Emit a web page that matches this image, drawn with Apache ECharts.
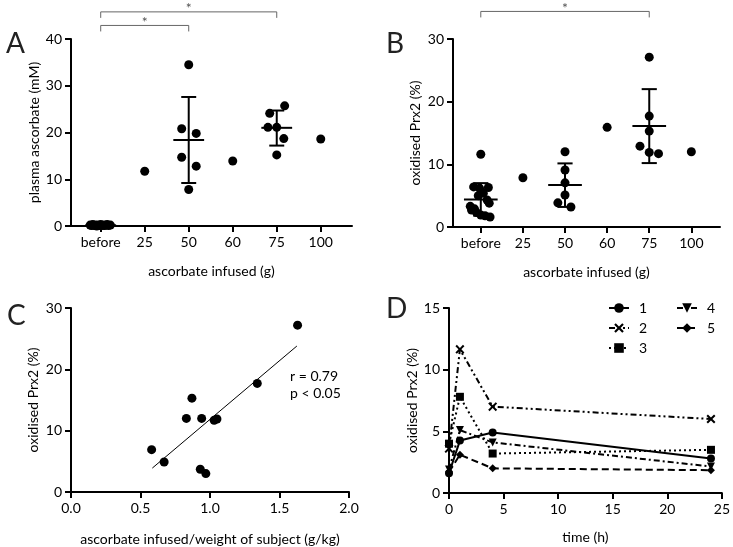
<!DOCTYPE html>
<html><head><meta charset="utf-8">
<script src="https://cdn.jsdelivr.net/npm/echarts@6/dist/echarts.min.js"></script>
<style>html,body{margin:0;padding:0;background:#fff}#c{width:733px;height:547px}</style>
</head><body><div id="c"></div>
<script>
// ---------- shared ----------
const doseLabels = ['before', '25', '50', '60', '75', '100'];
const doseTicks = [0, 1, 2, 3, 4, 5];

// ---------- Panel A: plasma ascorbate ----------
const ascX = [-0.24,-0.21,-0.18,-0.15,-0.12,-0.09,-0.06,-0.03,0.0,0.03,0.06,0.09,0.12,0.15,0.18,0.22,
              1,
              1.84,2.17,1.84,2.17,2,2,
              3,
              4.18,3.84,3.80,4,4.16,4,
              5];
const ascY = [0.2,0.1,0.3,0.1,0.2,0.0,0.2,0.1,0.3,0.1,0.2,0.1,0.2,0.3,0.1,0.2,
              11.7,
              20.8,19.8,14.7,12.8,34.5,7.8,
              13.9,
              25.7,24.1,21.1,21.1,18.7,15.2,
              18.6];
const ascErrCat = [0, 2, 4];
const ascMean = [0.15, 18.4, 21.0];
const ascLow = [0.0, 9.2, 17.2];
const ascHigh = [0.3, 27.6, 24.7];
const ascSig = [[0, 4], [0, 2]];

// ---------- Panel B: oxidised Prx2 by dose ----------
const prxX = [0,-0.17,0.18,-0.03,0.06,-0.06,0.15,0.20,-0.25,-0.15,-0.22,-0.10,0,0.10,0.22,
              1,
              2,2,2,2,1.83,2.14,
              3,
              4,4,4,3.78,4,4.22,
              5];
const prxY = [11.6,6.4,6.3,6.2,5.4,5.0,4.3,3.8,3.3,2.9,2.7,2.3,1.9,1.8,1.6,
              7.85,
              12.0,9.1,7.05,5.1,3.85,3.2,
              15.9,
              27.1,17.7,15.3,12.9,11.9,11.7,
              12.0];
const prxErrCat = [0, 2, 4];
const prxMean = [4.4, 6.7, 16.1];
const prxLow = [1.8, 3.2, 10.2];
const prxHigh = [7.0, 10.15, 22.0];
const prxSig = [[0, 4]];

// ---------- Panel C: correlation ----------
const perKgX = [0.58,0.67,0.83,0.87,0.94,1.03,1.05,0.93,0.97,1.34,1.63];
const perKgY = [6.9,4.9,12.0,15.3,12.0,11.7,11.9,3.7,3.0,17.7,27.2];
const fitX = [0.585, 1.625];
const fitY = [3.9, 23.8];

// ---------- Panel D: time course ----------
const hours = [0, 1, 4, 24];
const subj1 = [1.6, 4.25, 4.9, 2.8];
const subj2 = [3.6, 11.65, 7.0, 6.0];
const subj3 = [4.0, 7.8, 3.2, 3.5];
const subj4 = [1.9, 5.1, 4.1, 2.15];
const subj5 = [1.7, 3.1, 2.0, 1.85];

const FONT = 'Lato';
const FS = 14;
const zip = (a, b) => a.map((v, i) => [v, b[i]]);

function errRender(halfMean, halfCap) {
  return function (params, api) {
    const x = api.value(0), m = api.value(1), lo = api.value(2), hi = api.value(3);
    const c = (xx, yy) => api.coord([xx, yy]);
    const st = { stroke: '#000', lineWidth: 2, fill: null };
    const seg = (p, q) => ({ type: 'line', shape: { x1: p[0], y1: p[1], x2: q[0], y2: q[1] }, style: st });
    return { type: 'group', children: [
      seg(c(x, lo), c(x, hi)),
      seg(c(x - halfMean, m), c(x + halfMean, m)),
      seg(c(x - halfCap, lo), c(x + halfCap, lo)),
      seg(c(x - halfCap, hi), c(x + halfCap, hi))
    ] };
  };
}
function sigRender(levels) {
  return function (params, api) {
    const lv = levels[params.dataIndex];
    const a = api.coord([api.value(0), lv]), b = api.coord([api.value(1), lv]);
    return { type: 'group', children: [
      { type: 'polyline', shape: { points: [[a[0], a[1] + 6], [a[0], a[1]], [b[0], b[1]], [b[0], b[1] + 6]] },
        style: { stroke: '#666', lineWidth: 1, fill: null } },
      { type: 'text', style: { text: '*', x: (a[0] + b[0]) / 2, y: a[1] - 3, align: 'center', verticalAlign: 'middle',
        fill: '#555', fontSize: 14, fontFamily: FONT } }
    ] };
  };
}

const axisLineS = { show: true, onZero: false, lineStyle: { color: '#000', width: 2 } };
const tickS = { show: true, length: 6, lineStyle: { color: '#000', width: 2 } };
const labS = { color: '#000', fontSize: FS, fontFamily: FONT, margin: 9 };
const nameS = { color: '#000', fontSize: FS, fontFamily: FONT };

function doseXAxis(gridIndex, min, max) {
  return { type: 'value', gridIndex, min, max, name: 'ascorbate infused (g)', nameLocation: 'middle', nameGap: 38,
    nameTextStyle: nameS, axisLine: axisLineS, splitLine: { show: false },
    axisTick: Object.assign({ customValues: doseTicks }, tickS),
    axisLabel: Object.assign({ customValues: doseTicks, formatter: v => doseLabels[Math.round(v)] }, labS) };
}
function yAx(gridIndex, min, max, interval, name, gap) {
  return { type: 'value', gridIndex, min, max, interval, name, nameLocation: 'middle', nameGap: gap,
    nameTextStyle: nameS, axisLine: axisLineS, axisTick: tickS, axisLabel: labS, splitLine: { show: false } };
}

const dot = { color: '#000', opacity: 1 };
const letter = { fontSize: 28, fontWeight: 'normal', color: '#222', fontFamily: 'Lato' };
const option = {
  animation: false,
  backgroundColor: '#fff',
  textStyle: { fontFamily: FONT },
  title: [
    { text: 'A', left: 1, top: 25, textStyle: letter },
    { text: 'B', left: 381, top: 25, textStyle: letter },
    { text: 'C', left: 2, top: 297, textStyle: letter },
    { text: 'D', left: 381, top: 290, textStyle: letter }
  ],
  grid: [
    { left: 71, top: 39, width: 281, height: 187 },
    { left: 453, top: 39, width: 267, height: 188 },
    { left: 71, top: 308, width: 278, height: 184 },
    { left: 449, top: 308, width: 275, height: 185 }
  ],
  xAxis: [
    doseXAxis(0, -0.675, 5.71),
    doseXAxis(1, -0.66, 5.68),
    { type: 'value', gridIndex: 2, min: 0, max: 2, interval: 0.5, name: 'ascorbate infused/weight of subject (g/kg)',
      nameLocation: 'middle', nameGap: 40, nameTextStyle: nameS, axisLine: axisLineS, axisTick: tickS,
      axisLabel: Object.assign({ formatter: v => v.toFixed(1) }, labS), splitLine: { show: false } },
    { type: 'value', gridIndex: 3, min: 0, max: 25, interval: 5, name: 'time (h)', nameLocation: 'middle', nameGap: 37,
      nameTextStyle: nameS, axisLine: axisLineS, axisTick: tickS, axisLabel: labS, splitLine: { show: false } }
  ],
  yAxis: [
    yAx(0, 0, 40, 10, 'plasma ascorbate (mM)', 30),
    yAx(1, 0, 30, 10, 'oxidised Prx2 (%)', 31),
    yAx(2, 0, 30, 10, 'oxidised Prx2 (%)', 31),
    yAx(3, 0, 15, 5, 'oxidised Prx2 (%)', 27)
  ],
  legend: [
    { data: ['1', '2', '3'], orient: 'vertical', left: 603, top: 296, itemWidth: 20, itemHeight: 12, itemGap: 6,
      textStyle: { fontSize: FS, fontFamily: FONT, color: '#000', padding: [0, 0, 0, 5] } },
    { data: ['4', '5'], orient: 'vertical', left: 671, top: 296, itemWidth: 20, itemHeight: 12, itemGap: 6,
      textStyle: { fontSize: FS, fontFamily: FONT, color: '#000', padding: [0, 0, 0, 5] } }
  ],
  graphic: [
    { type: 'text', left: 290, top: 369, style: { text: 'r = 0.79', fontSize: FS, fontFamily: FONT, fill: '#000' } },
    { type: 'text', left: 290, top: 386, style: { text: 'p < 0.05', fontSize: FS, fontFamily: FONT, fill: '#000' } }
  ],
  series: [
    // A
    { type: 'scatter', xAxisIndex: 0, yAxisIndex: 0, data: zip(ascX, ascY), symbolSize: 9, itemStyle: dot },
    { type: 'custom', xAxisIndex: 0, yAxisIndex: 0, renderItem: errRender(0.35, 0.17),
      data: ascErrCat.map((c, i) => [c, ascMean[i], ascLow[i], ascHigh[i]]), z: 3 },
    { type: 'custom', xAxisIndex: 0, yAxisIndex: 0, renderItem: sigRender([45.8, 42.9]), data: ascSig, clip: false },
    // B
    { type: 'scatter', xAxisIndex: 1, yAxisIndex: 1, data: zip(prxX, prxY), symbolSize: 9, itemStyle: dot },
    { type: 'custom', xAxisIndex: 1, yAxisIndex: 1, renderItem: errRender(0.4, 0.18),
      data: prxErrCat.map((c, i) => [c, prxMean[i], prxLow[i], prxHigh[i]]), z: 3 },
    { type: 'custom', xAxisIndex: 1, yAxisIndex: 1, renderItem: sigRender([34.4]), data: prxSig, clip: false },
    // C
    { type: 'scatter', xAxisIndex: 2, yAxisIndex: 2, data: zip(perKgX, perKgY), symbolSize: 9, itemStyle: dot },
    { type: 'line', xAxisIndex: 2, yAxisIndex: 2, data: zip(fitX, fitY), symbol: 'none', lineStyle: { color: '#000', width: 1 } },
    // D
    { name: '1', type: 'line', xAxisIndex: 3, yAxisIndex: 3, data: zip(hours, subj1), symbol: 'circle', symbolSize: 8,
      itemStyle: dot, lineStyle: { color: '#000', width: 2, type: 'solid' } },
    { name: '2', type: 'line', xAxisIndex: 3, yAxisIndex: 3, data: zip(hours, subj2),
      symbol: 'path://M0,1.6 L1.6,0 L5,3.4 L8.4,0 L10,1.6 L6.6,5 L10,8.4 L8.4,10 L5,6.6 L1.6,10 L0,8.4 L3.4,5 Z', symbolSize: 9,
      itemStyle: dot, lineStyle: { color: '#000', width: 2, type: [6, 3, 2, 3, 2, 3] } },
    { name: '3', type: 'line', xAxisIndex: 3, yAxisIndex: 3, data: zip(hours, subj3), symbol: 'rect', symbolSize: 8,
      itemStyle: dot, lineStyle: { color: '#000', width: 2, type: [2, 3] } },
    { name: '4', type: 'line', xAxisIndex: 3, yAxisIndex: 3, data: zip(hours, subj4),
      symbol: 'path://M0,0 L10,0 L5,9 Z', symbolSize: 8,
      itemStyle: dot, lineStyle: { color: '#000', width: 2, type: [6, 3, 2, 3] } },
    { name: '5', type: 'line', xAxisIndex: 3, yAxisIndex: 3, data: zip(hours, subj5), symbol: 'diamond', symbolSize: 8,
      itemStyle: dot, lineStyle: { color: '#000', width: 2, type: [7, 4] } }
  ]
};
const chart = echarts.init(document.getElementById('c'), null, { renderer: 'canvas' });
chart.setOption(option);
</script></body></html>
